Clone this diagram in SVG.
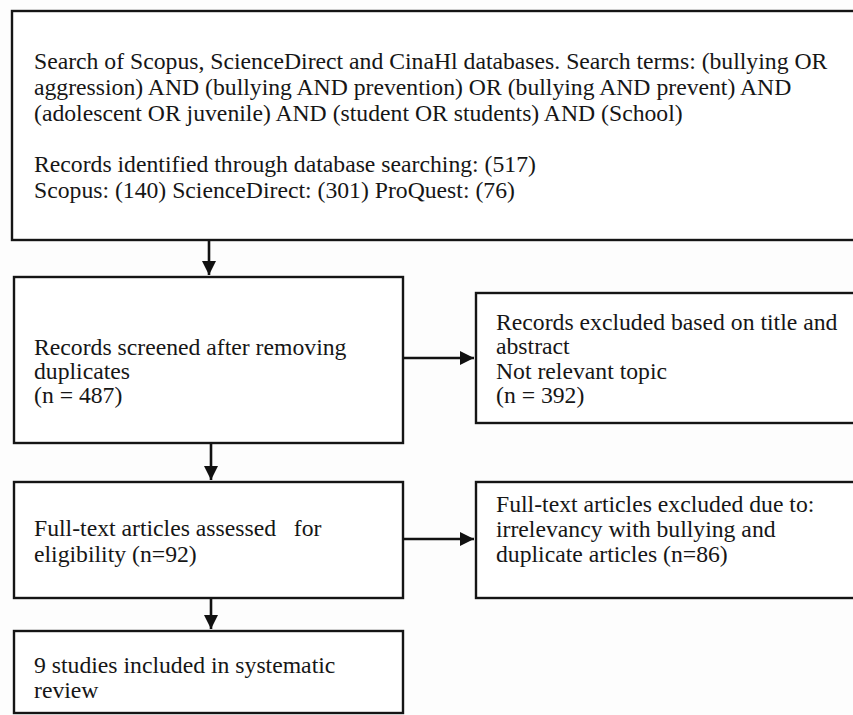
<svg xmlns="http://www.w3.org/2000/svg" width="853" height="715" viewBox="0 0 853 715">
  <defs>
    <marker id="ah" viewBox="0 0 10 10" refX="10" refY="5" markerWidth="5.5" markerHeight="5.5" markerUnits="strokeWidth" orient="auto">
      <path d="M0,0 L10,5 L0,10 Z" fill="#111"/>
    </marker>
  </defs>
  <style>
    .box { fill: #fff; stroke: #151515; stroke-width: 2.4; }
    .t { font-family: "Liberation Serif", "Times New Roman", serif; font-size: 23.7px; fill: #161616; }
    .conn { stroke: #111; stroke-width: 2.6; fill: none; marker-end: url(#ah); }
  </style>
  <rect width="853" height="715" fill="#fdfdfd"/>
  <g id="search">
    <rect class="box" x="12" y="11" width="900" height="229"/>
    <text class="t" x="34" y="69">Search of Scopus, ScienceDirect and CinaHl databases. Search terms: (bullying OR</text>
    <text class="t" x="34" y="95">aggression) AND (bullying AND prevention) OR (bullying AND prevent) AND</text>
    <text class="t" x="34" y="121">(adolescent OR juvenile) AND (student OR students) AND (School)</text>
    <text class="t" x="34" y="172">Records identified through database searching: (517)</text>
    <text class="t" x="34" y="198">Scopus: (140) ScienceDirect: (301) ProQuest: (76)</text>
  </g>
  <g id="screened">
    <rect class="box" x="14" y="277" width="389" height="166"/>
    <text class="t" x="34" y="355">Records screened after removing</text>
    <text class="t" x="34" y="379">duplicates</text>
    <text class="t" x="34" y="403">(n = 487)</text>
  </g>
  <g id="excluded1">
    <rect class="box" x="476" y="293" width="420" height="130"/>
    <text class="t" x="496" y="330">Records excluded based on title and</text>
    <text class="t" x="496" y="354">abstract</text>
    <text class="t" x="496" y="379">Not relevant topic</text>
    <text class="t" x="496" y="403">(n = 392)</text>
  </g>
  <g id="fulltext">
    <rect class="box" x="14" y="482" width="389" height="116"/>
    <text class="t" x="34" y="536" xml:space="preserve">Full-text articles assessed   for</text>
    <text class="t" x="34" y="562">eligibility (n=92)</text>
  </g>
  <g id="excluded2">
    <rect class="box" x="476" y="482" width="420" height="116"/>
    <text class="t" x="496" y="512">Full-text articles excluded due to:</text>
    <text class="t" x="496" y="537">irrelevancy with bullying and</text>
    <text class="t" x="496" y="562">duplicate articles (n=86)</text>
  </g>
  <g id="included">
    <rect class="box" x="14" y="631" width="389" height="82"/>
    <text class="t" x="34" y="673">9 studies included in systematic</text>
    <text class="t" x="34" y="698">review</text>
  </g>
  <g id="connectors">
    <line class="conn" x1="209" y1="241" x2="209" y2="275"/>
    <line class="conn" x1="403" y1="358" x2="474" y2="358"/>
    <line class="conn" x1="211" y1="444" x2="211" y2="480"/>
    <line class="conn" x1="403" y1="539" x2="474" y2="539"/>
    <line class="conn" x1="211" y1="599" x2="211" y2="629"/>
  </g>
</svg>
